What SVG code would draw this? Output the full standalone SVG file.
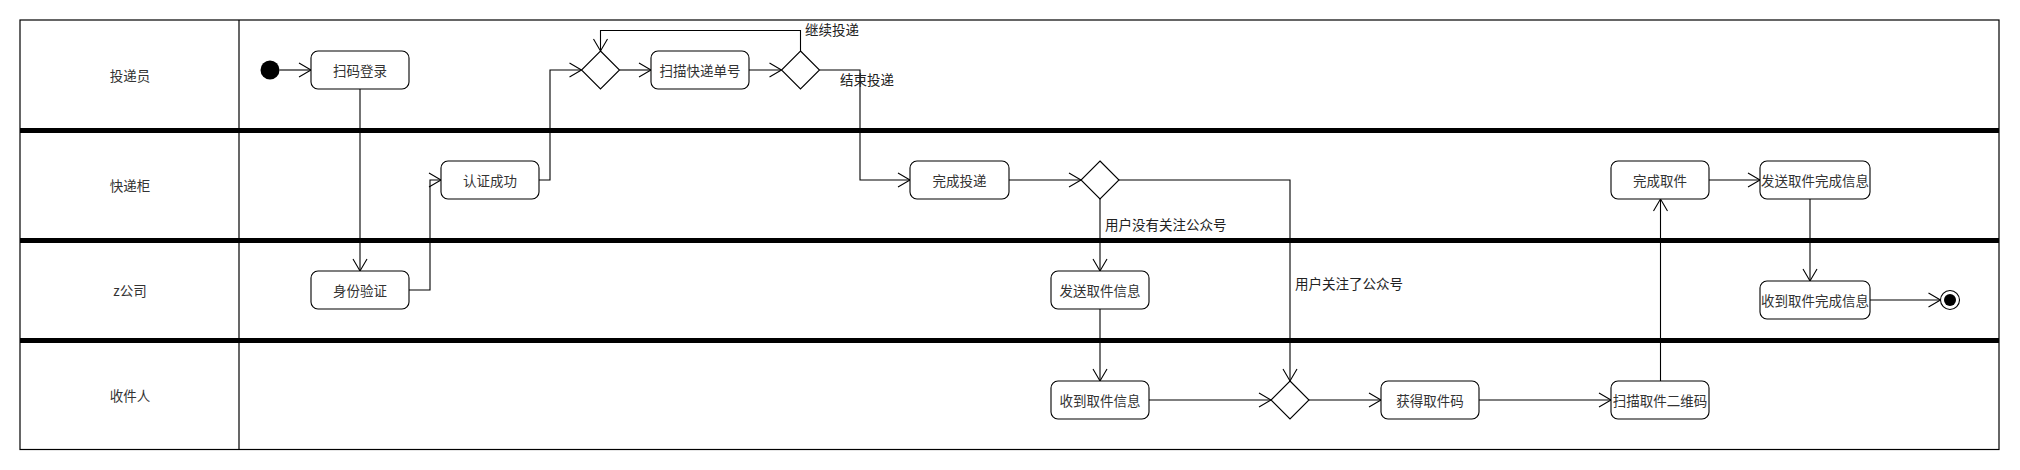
<svg xmlns="http://www.w3.org/2000/svg" width="2020" height="470" viewBox="0 0 2020 470">
<defs>
<style>
.lane{fill:none;stroke:#000;stroke-width:1.2}
.div{stroke:#000;stroke-width:5}
.box{fill:#fff;stroke:#000;stroke-width:1.1}
.t{font-family:"Noto Sans CJK SC","Noto Sans",sans-serif;font-size:13.5px;fill:#333;text-anchor:middle;dominant-baseline:central}
.lbl{font-family:"Noto Sans CJK SC","Noto Sans",sans-serif;font-size:13.5px;fill:#222;dominant-baseline:central}
.c{fill:none;stroke:#000;stroke-width:1.1;marker-end:url(#arr)}
</style>
<marker id="arr" markerUnits="userSpaceOnUse" markerWidth="16" markerHeight="18" refX="13" refY="8" orient="auto">
<path d="M1,1 L13,8 L1,15" fill="none" stroke="#000" stroke-width="1.1"/>
</marker>
</defs>
<rect width="2020" height="470" fill="#fff"/>
<g id="lanes">
<rect class="lane" x="20" y="20" width="1979" height="429.5"/>
<line class="lane" x1="239" y1="20" x2="239" y2="449.5"/>
<line class="div" x1="20" y1="130.5" x2="1999" y2="130.5"/>
<line class="div" x1="20" y1="240.5" x2="1999" y2="240.5"/>
<line class="div" x1="20" y1="340.5" x2="1999" y2="340.5"/>
<text class="t" x="130" y="75">投递员</text>
<text class="t" x="130" y="185">快递柜</text>
<text class="t" x="130" y="290">z公司</text>
<text class="t" x="130" y="395">收件人</text>
</g>
<g id="connectors">
<path class="c" d="M279.5,70 L311,70"/>
<path class="c" d="M360,89 L360,271"/>
<path class="c" d="M409,290 L430,290 L430,180 L441,180"/>
<path class="c" d="M539,180 L550,180 L550,70 L581.5,70"/>
<path class="c" d="M619.5,70 L651,70"/>
<path class="c" d="M749,70 L781.5,70"/>
<path class="c" d="M800.5,51 L800.5,30.5 L600.5,30.5 L600.5,51"/>
<path class="c" d="M819.5,70 L860,70 L860,180 L910,180"/>
<path class="c" d="M1009,180 L1081,180"/>
<path class="c" d="M1100,199 L1100,271"/>
<path class="c" d="M1119,180 L1290,180 L1290,381"/>
<path class="c" d="M1100,309 L1100,381"/>
<path class="c" d="M1149,400 L1271,400"/>
<path class="c" d="M1309,400 L1381,400"/>
<path class="c" d="M1479,400 L1611,400"/>
<path class="c" d="M1660.5,381 L1660.5,199"/>
<path class="c" d="M1709,180 L1760,180"/>
<path class="c" d="M1810,199 L1810,281"/>
<path class="c" d="M1870,300 L1940.5,300"/>
<text class="lbl" x="805" y="29">继续投递</text>
<text class="lbl" x="840" y="79">结束投递</text>
<text class="lbl" x="1105" y="224">用户没有关注公众号</text>
<text class="lbl" x="1295" y="283">用户关注了公众号</text>
</g>
<g id="start"><circle cx="270" cy="70" r="9.5" fill="#000"/></g>
<g id="n1"><rect class="box" x="311" y="51" width="98" height="38" rx="7"/><text class="t" x="360" y="70">扫码登录</text></g>
<g id="n2"><rect class="box" x="311" y="271" width="98" height="38" rx="7"/><text class="t" x="360" y="290">身份验证</text></g>
<g id="n3"><rect class="box" x="441" y="161" width="98" height="38" rx="7"/><text class="t" x="490" y="180">认证成功</text></g>
<g id="d1"><polygon class="box" points="600.5,51 619.5,70 600.5,89 581.5,70"/></g>
<g id="n4"><rect class="box" x="651" y="51" width="98" height="38" rx="7"/><text class="t" x="700" y="70">扫描快递单号</text></g>
<g id="d2"><polygon class="box" points="800.5,51 819.5,70 800.5,89 781.5,70"/></g>
<g id="n5"><rect class="box" x="910" y="161" width="99" height="38" rx="7"/><text class="t" x="959.5" y="180">完成投递</text></g>
<g id="d3"><polygon class="box" points="1100,161 1119,180 1100,199 1081,180"/></g>
<g id="n6"><rect class="box" x="1051" y="271" width="98" height="38" rx="7"/><text class="t" x="1100" y="290">发送取件信息</text></g>
<g id="n7"><rect class="box" x="1051" y="381" width="98" height="38" rx="7"/><text class="t" x="1100" y="400">收到取件信息</text></g>
<g id="d4"><polygon class="box" points="1290,381 1309,400 1290,419 1271,400"/></g>
<g id="n8"><rect class="box" x="1381" y="381" width="98" height="38" rx="7"/><text class="t" x="1430" y="400">获得取件码</text></g>
<g id="n9"><rect class="box" x="1611" y="381" width="98" height="38" rx="7"/><text class="t" x="1660" y="400">扫描取件二维码</text></g>
<g id="n10"><rect class="box" x="1611" y="161" width="98" height="38" rx="7"/><text class="t" x="1660" y="180">完成取件</text></g>
<g id="n11"><rect class="box" x="1760" y="161" width="110" height="38" rx="7"/><text class="t" x="1815" y="180">发送取件完成信息</text></g>
<g id="n12"><rect class="box" x="1760" y="281" width="110" height="38" rx="7"/><text class="t" x="1815" y="300">收到取件完成信息</text></g>
<g id="end"><circle cx="1950" cy="300" r="9.5" fill="#fff" stroke="#000" stroke-width="1.1"/><circle cx="1950" cy="300" r="6" fill="#000"/></g>
</svg>
